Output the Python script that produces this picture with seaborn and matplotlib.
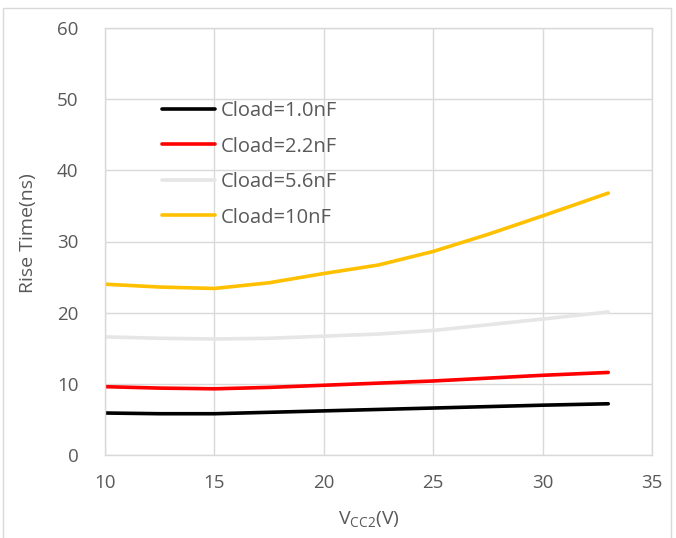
import matplotlib
matplotlib.use("Agg")
import matplotlib.pyplot as plt
import seaborn as sns
import pandas as pd
from matplotlib.patches import Rectangle

vcc2 = [10, 12.5, 15, 17.5, 20, 22.5, 25, 27.5, 30, 33]
c_1_0 = [5.9, 5.8, 5.8, 6.0, 6.2, 6.4, 6.6, 6.8, 7.0, 7.2]
c_2_2 = [9.6, 9.4, 9.3, 9.5, 9.8, 10.1, 10.4, 10.8, 11.2, 11.6]
c_5_6 = [16.6, 16.4, 16.3, 16.4, 16.7, 17.0, 17.5, 18.3, 19.1, 20.1]
c_10 = [24.0, 23.6, 23.4, 24.2, 25.5, 26.7, 28.6, 31.0, 33.6, 36.8]
labels = ["Cload=1.0nF", "Cload=2.2nF", "Cload=5.6nF", "Cload=10nF"]
colors = ["#000000", "#FF0000", "#E7E6E6", "#FFC000"]
x_ticks = [10, 15, 20, 25, 30, 35]
y_ticks = [0, 10, 20, 30, 40, 50, 60]

rows = []
for lab, ys in zip(labels, [c_1_0, c_2_2, c_5_6, c_10]):
    for x, y in zip(vcc2, ys):
        rows.append({"V": x, "T": y, "Series": lab})
df = pd.DataFrame(rows)

sns.set_theme(style="white")
plt.rcParams["font.family"] = ["Open Sans", "DejaVu Sans"]
plt.rcParams["mathtext.fontset"] = "custom"
plt.rcParams["mathtext.rm"] = "Open Sans"
txt = "#595959"
grid = "#D9D9D9"

fig = plt.figure(figsize=(6.76, 5.38), dpi=100)
ax = fig.add_axes([105/676, 83/538, 547/676, 427/538])
fig.patches.append(Rectangle((3/676, -2/538), 668/676, 532/538, transform=fig.transFigure,
                             fill=False, edgecolor=grid, linewidth=1.0))

sns.lineplot(data=df, x="V", y="T", hue="Series", palette=colors, hue_order=labels,
             linewidth=2.6, ax=ax, legend=True, solid_capstyle="round")

ax.set_xlim(10, 35)
ax.set_ylim(0, 60)
ax.set_xticks(x_ticks)
ax.set_yticks(y_ticks)
ax.grid(True, color=grid, linewidth=1.0)
ax.set_axisbelow(True)
for s in ax.spines.values():
    s.set_color(grid)
    s.set_linewidth(1.0)
ax.tick_params(axis="x", length=0, labelsize=13.5, colors=txt, pad=14)
ax.tick_params(axis="y", length=0, labelsize=13.5, colors=txt, pad=19)
ax.set_xlabel("V$_{\\mathregular{CC2}}$(V)", fontsize=14, color=txt, va="center")
ax.set_ylabel("Rise Time(ns)", fontsize=14, color=txt, va="center")
ax.xaxis.set_label_coords(0.483, -0.152)
ax.yaxis.set_label_coords(-0.141, 0.52)

handles, labs = ax.get_legend_handles_labels()
leg = ax.legend(handles, labs, loc="upper left", bbox_to_anchor=(0.104, 0.829),
                frameon=False, fontsize=14.5, handlelength=2.64, handletextpad=0.28,
                labelspacing=0.77, borderpad=0, borderaxespad=0)
for t in leg.get_texts():
    t.set_color(txt)
for h in leg.get_lines():
    h.set_linewidth(2.6)

fig.savefig("out.png", dpi=100)
